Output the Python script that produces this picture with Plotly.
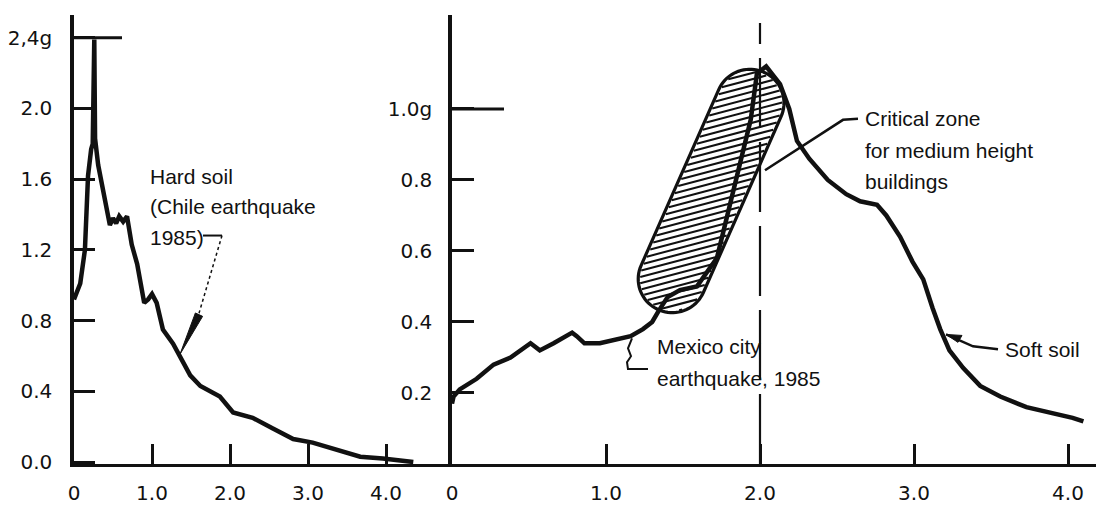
import numpy as np
import plotly.graph_objects as go

# ---------------- data ----------------
hard_T = [0.00, 0.08, 0.14, 0.17, 0.18, 0.22, 0.24, 0.26, 0.27, 0.31, 0.36, 0.42, 0.46,
          0.50, 0.54, 0.58, 0.63, 0.68, 0.74, 0.81, 0.85, 0.90, 0.95, 1.00, 1.06, 1.14,
          1.27, 1.36, 1.49, 1.62, 1.78, 1.87, 2.04, 2.29, 2.55, 2.81, 3.06, 3.28, 3.50,
          3.67, 3.96, 4.18, 4.35]
hard_SA = [0.92, 1.01, 1.20, 1.48, 1.62, 1.77, 1.80, 2.39, 1.83, 1.68, 1.57, 1.45, 1.34,
           1.38, 1.35, 1.39, 1.36, 1.39, 1.23, 1.12, 1.01, 0.90, 0.92, 0.95, 0.90, 0.75,
           0.67, 0.60, 0.49, 0.43, 0.39, 0.37, 0.28, 0.25, 0.19, 0.13, 0.11, 0.08, 0.05,
           0.03, 0.02, 0.01, 0.00]

soft_T = [0.00, 0.01, 0.05, 0.16, 0.27, 0.38, 0.51, 0.57, 0.66, 0.78, 0.81, 0.86, 0.96,
          1.07, 1.16, 1.24, 1.30, 1.34, 1.40, 1.48, 1.59, 1.72, 1.82, 1.94, 1.98, 2.04,
          2.13, 2.19, 2.24, 2.32, 2.44, 2.56, 2.65, 2.76, 2.82, 2.91, 2.99, 3.06, 3.12,
          3.17, 3.23, 3.32, 3.43, 3.56, 3.73, 3.84, 3.95, 4.03, 4.10]
soft_SA = [0.17, 0.19, 0.21, 0.24, 0.28, 0.30, 0.34, 0.32, 0.34, 0.37, 0.36, 0.34, 0.34,
           0.35, 0.36, 0.38, 0.40, 0.43, 0.47, 0.49, 0.50, 0.58, 0.76, 0.97, 1.10, 1.12,
           1.07, 1.00, 0.91, 0.86, 0.80, 0.76, 0.74, 0.73, 0.70, 0.64, 0.57, 0.52, 0.44,
           0.38, 0.32, 0.27, 0.22, 0.19, 0.16, 0.15, 0.14, 0.13, 0.12]

x_tickvals = [0, 1, 2, 3, 4]
x_ticktext = ["0", "1.0", "2.0", "3.0", "4.0"]
hard_y_tickvals = [0.0, 0.4, 0.8, 1.2, 1.6, 2.0, 2.4]
hard_y_ticktext = ["0.0", "0.4", "0.8", "1.2", "1.6", "2.0", "2,4g"]
soft_y_tickvals = [0.2, 0.4, 0.6, 0.8, 1.0]
soft_y_ticktext = ["0.2", "0.4", "0.6", "0.8", "1.0g"]

# critical zone (period / acceleration of the two ends of the band)
zone_T = [1.43, 1.935]
zone_SA = [0.521, 1.017]
dash_T = 2.0

# ---------------- geometry / style ----------------
W, H = 1096, 505
ML, MR, MT, MB = 74, 0, 15, 36
PW, PH = W - ML - MR, H - MT - MB
BOT = MT + PH                     # pixel row of the baseline
SPLIT = 452                       # pixel column of the right panel axis
LX_SCALE, LY_SCALE = 78.0, 178.75  # px per unit, left panel
RX_SCALE, RY_SCALE = 154.0, 359.0  # px per unit, right panel
INK = "#111111"
TICKFONT = dict(family="DejaVu Sans", size=20, color=INK)
TXTFONT = dict(family="Liberation Sans, Arial", size=21, color=INK)

dom_split = (SPLIT - ML) / PW
lx_range = [0, (SPLIT - ML) / LX_SCALE]
ly_range = [-2 / LY_SCALE, (PH - 2) / LY_SCALE]
rx_range = [0, (W - MR - SPLIT) / RX_SCALE]
ry_range = [0, PH / RY_SCALE]


def px2paper(px, py):
    return (px - ML) / PW, (BOT - py) / PH


def r2px(t, a):
    return SPLIT + t * RX_SCALE, BOT - a * RY_SCALE


def path_from_px(points, close=False):
    s = ""
    for i, (px, py) in enumerate(points):
        x, y = px2paper(px, py)
        s += ("M" if i == 0 else "L") + f"{x:.5f},{y:.5f} "
    if close:
        s += "Z"
    return s


fig = go.Figure()
fig.add_trace(go.Scatter(x=hard_T, y=hard_SA, mode="lines", xaxis="x", yaxis="y",
                         line=dict(color=INK, width=4.5), hoverinfo="skip", showlegend=False))
fig.add_trace(go.Scatter(x=soft_T, y=soft_SA, mode="lines", xaxis="x2", yaxis="y2",
                         line=dict(color=INK, width=4.5), hoverinfo="skip", showlegend=False))

shapes = []

# ---- critical zone: hatched capsule ----
A = np.array(r2px(zone_T[0], zone_SA[0]))
B = np.array(r2px(zone_T[1], zone_SA[1]))
RAD = 34.0
u = (B - A) / np.linalg.norm(B - A)
n = np.array([-u[1], u[0]])
outline = []
for th in np.linspace(-np.pi / 2, np.pi / 2, 40):
    outline.append(B + RAD * (np.cos(th) * u + np.sin(th) * n))
for th in np.linspace(np.pi / 2, 3 * np.pi / 2, 40):
    outline.append(A + RAD * (np.cos(th) * u + np.sin(th) * n))


def seg_dist(p):
    ap = p - A
    t = np.clip(ap @ (B - A) / ((B - A) @ (B - A)), 0, 1)
    return np.linalg.norm(p - (A + t * (B - A)), axis=-1)


slope = np.tan(np.radians(15))
xs = np.arange(A[0] - RAD - 5, B[0] + RAD + 5, 0.5)
hatch = ""
for c in np.arange(B[1] - RAD - 40, A[1] + RAD + 40, 6.3):
    ys = c - slope * (xs - xs[0])
    pts = np.stack([xs, ys], axis=1)
    d = np.array([seg_dist(p) for p in pts])
    inside = np.where(d <= RAD - 1.5)[0]
    if len(inside) < 2:
        continue
    p0, p1 = pts[inside[0]], pts[inside[-1]]
    hatch += path_from_px([p0, p1]) + " "
shapes.append(dict(type="path", xref="paper", yref="paper", path=hatch,
                   line=dict(color=INK, width=2.1), layer="below"))
shapes.append(dict(type="path", xref="paper", yref="paper", path=path_from_px(outline, True),
                   line=dict(color=INK, width=3.2), fillcolor="rgba(0,0,0,0)", layer="below"))

# ---- dashed vertical line at T = 2.0 ----
shapes.append(dict(type="line", xref="x2", yref="y2", x0=dash_T, x1=dash_T, y0=0,
                   y1=(BOT - 23) / RY_SCALE, line=dict(color=INK, width=2.2, dash="70px,14px")))

# ---- long ticks ----
shapes.append(dict(type="line", xref="paper", yref="y", x0=0, x1=(122 - ML) / PW,
                   y0=2.4, y1=2.4, line=dict(color=INK, width=3)))
shapes.append(dict(type="line", xref="paper", yref="y2", x0=dom_split, x1=(504 - ML) / PW,
                   y0=1.0, y1=1.0, line=dict(color=INK, width=3)))

# ---- leaders ----
shapes.append(dict(type="path", xref="paper", yref="paper",
                   path=path_from_px([(203, 238), (222, 238)]), line=dict(color=INK, width=2)))
shapes.append(dict(type="path", xref="paper", yref="paper",
                   path=path_from_px([(222, 238), (198, 320)]), line=dict(color=INK, width=1.5, dash="dot")))
tip = np.array([180.0, 358.0]); base = np.array([199.0, 318.0])
dv = (tip - base) / np.linalg.norm(tip - base); nv = np.array([-dv[1], dv[0]])
shapes.append(dict(type="path", xref="paper", yref="paper",
                   path=path_from_px([base + 4 * nv, tip, base - 4 * nv], True),
                   line=dict(color=INK, width=1), fillcolor=INK))
shapes.append(dict(type="path", xref="paper", yref="paper",
                   path=path_from_px([(632, 342), (628, 352), (631, 360), (627, 366), (628, 373), (648, 373)]),
                   line=dict(color=INK, width=2)))
shapes.append(dict(type="path", xref="paper", yref="paper",
                   path=path_from_px([(858, 120), (843, 121), (765, 172)]),
                   line=dict(color=INK, width=2.5)))
shapes.append(dict(type="path", xref="paper", yref="paper",
                   path=path_from_px([(998, 353), (973, 350), (946, 338)]),
                   line=dict(color=INK, width=2.5)))
shapes.append(dict(type="path", xref="paper", yref="paper",
                   path=path_from_px([(946, 338), (962, 339), (958, 346)], True),
                   line=dict(color=INK, width=1), fillcolor=INK))

# ---- texts ----
texts = [
    (148, 178, "Hard soil"), (148, 209, "(Chile earthquake"), (148, 240, "1985)"),
    (655, 350, "Mexico city"), (655, 383, "earthquake, 1985"),
    (863, 120, "Critical zone"), (863, 152, "for medium height"), (863, 183, "buildings"),
    (1003, 353, "Soft soil"),
]
annotations = []
for px, py, s in texts:
    x, y = px2paper(px, py)
    annotations.append(dict(x=x, y=y, xref="paper", yref="paper", text=s, showarrow=False,
                            xanchor="left", yanchor="middle", font=TXTFONT))

axis_common = dict(showgrid=False, zeroline=False, showline=True, linecolor=INK,
                   ticks="inside", tickcolor=INK, tickfont=TICKFONT, fixedrange=True)

fig.update_layout(
    width=W, height=H,
    margin=dict(l=ML, r=MR, t=MT, b=MB),
    paper_bgcolor="white", plot_bgcolor="white",
    showlegend=False,
    xaxis=dict(domain=[0, dom_split], range=lx_range, anchor="y", tickvals=x_tickvals,
               ticktext=x_ticktext, ticklen=20, tickwidth=2.5, linewidth=3,
               ticklabelstandoff=9, **axis_common),
    yaxis=dict(domain=[0, 1], range=ly_range, anchor="x", tickvals=hard_y_tickvals,
               ticktext=hard_y_ticktext, ticklen=21, tickwidth=2.5, linewidth=3.5,
               ticklabelstandoff=14, **axis_common),
    xaxis2=dict(domain=[dom_split, 1], range=rx_range, anchor="y2", tickvals=x_tickvals,
                ticktext=x_ticktext, ticklen=20, tickwidth=2.5, linewidth=3,
                ticklabelstandoff=9, **axis_common),
    yaxis2=dict(domain=[0, 1], range=ry_range, anchor="x2", tickvals=soft_y_tickvals,
                ticktext=soft_y_ticktext, ticklen=22, tickwidth=2.5, linewidth=3.5,
                ticklabelstandoff=12, **axis_common),
    shapes=shapes,
    annotations=annotations,
)

fig.write_html("out.html", config={"displayModeBar": False},
               post_script="document.body.style.margin='0px';document.body.style.overflow='hidden';")
